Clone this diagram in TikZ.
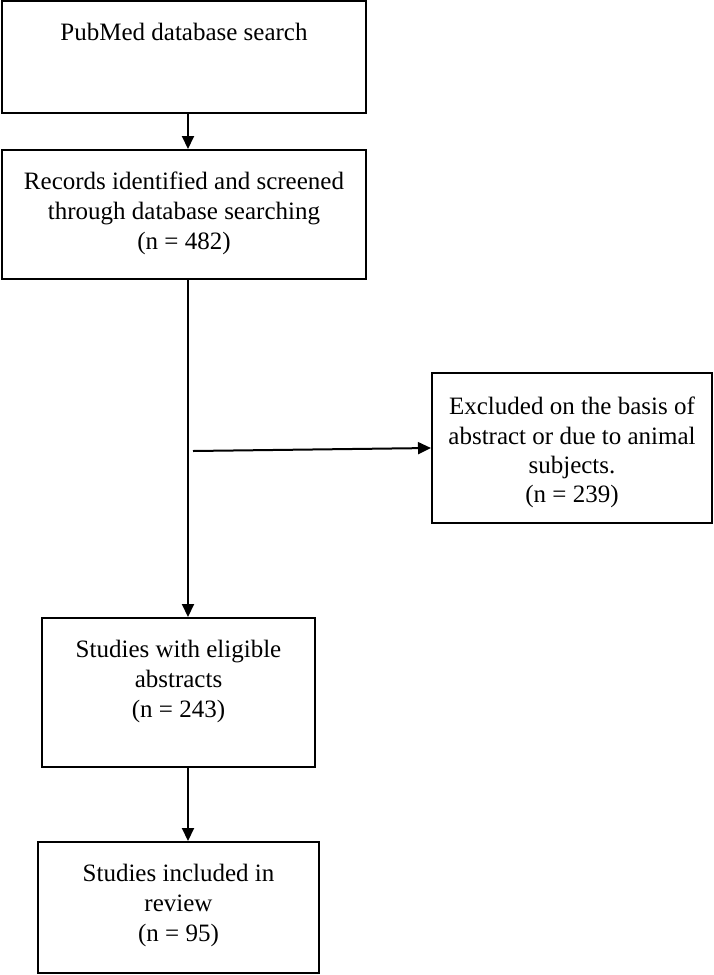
\documentclass[tikz,border=0pt]{standalone}
\usepackage{fontspec}
\setmainfont{Liberation Serif}
\usetikzlibrary{arrows.meta}
\begin{document}
\begin{tikzpicture}[x=1pt,y=-1pt,
  box/.style={draw=black,line width=2pt,rectangle,inner sep=0pt},
  txt/.style={font=\fontsize{25}{30}\selectfont,align=center,inner sep=0pt,anchor=north},
  arr/.style={line width=2pt,-{Triangle[length=13pt,width=12pt]}}]
\useasboundingbox (0,0) rectangle (714,975);
\node[box,minimum width=364pt,minimum height=112pt] (b1) at (184,57) {};
\node[box,minimum width=364pt,minimum height=129pt] (b2) at (184,214.5) {};
\node[box,minimum width=280pt,minimum height=150pt] (b4) at (572,448) {};
\node[box,minimum width=273pt,minimum height=149pt] (b3) at (178.5,692.5) {};
\node[box,minimum width=281pt,minimum height=131pt] (b5) at (178.5,907.5) {};
\node[txt] (t1) at (184,23) {PubMed database search};
\node[txt] (t2) at (184,172) {Records identified and screened\\through database searching\\(n = 482)};
\node[txt,font=\fontsize{25}{29.2}\selectfont] (t4) at (572,397) {Excluded on the basis of\\abstract or due to animal\\subjects.\\(n = 239)};
\node[txt] (t3) at (178.5,640) {Studies with eligible\\abstracts\\(n = 243)};
\node[txt] (t5) at (178.5,864) {Studies included in\\review\\(n = 95)};
\coordinate (xcol) at (188,0);
\coordinate (hs) at (193,451);
\draw[arr] (b1.south -| xcol) -- (b2.north -| xcol);
\draw[arr] (b2.south -| xcol) -- (b3.north -| xcol);
\draw[arr] (hs) -- (b4.west);
\draw[arr] (b3.south -| xcol) -- (b5.north -| xcol);
\end{tikzpicture}
\end{document}
